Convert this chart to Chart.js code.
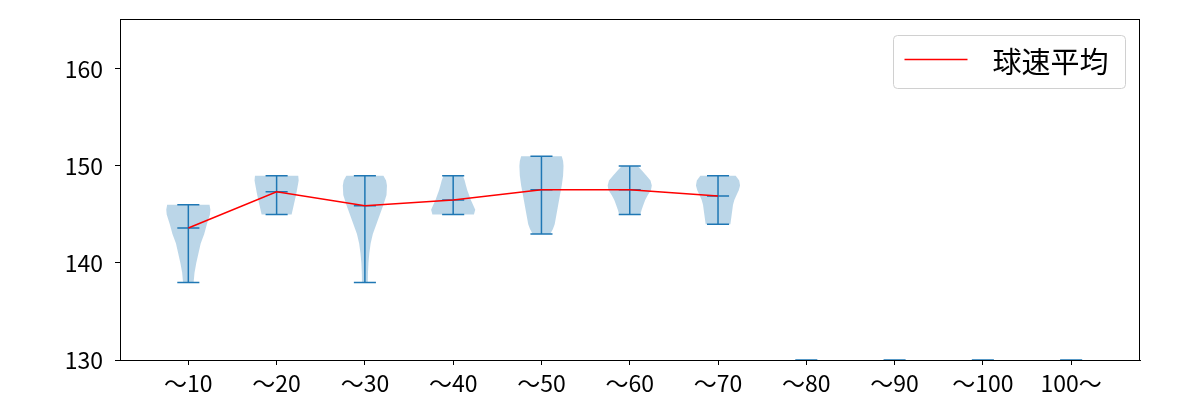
<!DOCTYPE html>
<html>
<head>
<meta charset="utf-8">
<script src="https://cdn.jsdelivr.net/npm/chart.js@4.4.1/dist/chart.umd.min.js"></script>
<style>
  html, body { margin: 0; padding: 0; background: #fff; }
  #wrap { width: 1200px; height: 400px; }
</style>
</head>
<body>
<div id="wrap"><canvas id="speedViolin"></canvas></div>
<script>
// 球数ごとの球速分布
const categories = ['〜10', '〜20', '〜30', '〜40', '〜50', '〜60', '〜70', '〜80', '〜90', '〜100', '100〜'];
const meanSpeed = [143.6, 147.35, 145.9, 146.5, 147.55, 147.55, 146.9, null, null, null, null];
const minSpeed = [138, 145, 138, 145, 143, 145, 144, 130, 130, 130, 130];
const maxSpeed = [146, 149, 149, 149, 151, 150, 149, 130, 130, 130, 130];
const yTicks = [130, 140, 150, 160];

// バイオリンの輪郭 (球速, 半幅)
const profileSpeeds = [
    [138, 139, 140, 141, 142, 143, 144, 145, 145.5, 146],
    [145, 146, 147, 148, 148.5, 149],
    [138, 139, 140, 141, 142, 143, 144, 145, 146, 147, 148, 148.5, 149],
    [145, 145.5, 146, 146.5, 147, 147.5, 148, 148.5, 149],
    [143, 143.5, 144, 145, 146, 147, 148, 149, 150, 150.5, 151],
    [145, 145.5, 146, 146.5, 147, 147.5, 148, 148.5, 149, 149.5, 150],
    [144, 145, 146, 146.5, 147, 147.5, 148, 148.5, 149],
    [], [], [], []
];
const profileWidths = [
    [0.06, 0.07, 0.09, 0.115, 0.14, 0.18, 0.21, 0.245, 0.25, 0.24],
    [0.17, 0.195, 0.22, 0.24, 0.25, 0.245],
    [0.033, 0.035, 0.04, 0.05, 0.065, 0.09, 0.13, 0.17, 0.21, 0.245, 0.25, 0.24, 0.21],
    [0.235, 0.25, 0.225, 0.2, 0.18, 0.16, 0.145, 0.13, 0.11],
    [0.10, 0.13, 0.15, 0.17, 0.19, 0.21, 0.23, 0.245, 0.25, 0.245, 0.23],
    [0.12, 0.135, 0.155, 0.175, 0.205, 0.24, 0.25, 0.235, 0.19, 0.14, 0.09],
    [0.14, 0.155, 0.17, 0.185, 0.21, 0.235, 0.25, 0.24, 0.2],
    [], [], [], []
];

const FONT = '"Noto Sans CJK JP", "Noto Sans", sans-serif';
const BLUE = '#1f77b4';
const CAP = 0.125;

// バイオリン本体とひげ (軸線の下に描く)
const violinPlugin = {
    id: 'violins',
    beforeDraw(chart) {
        const ctx = chart.ctx;
        const xs = chart.scales.x, ys = chart.scales.y;
        const a = chart.chartArea;
        ctx.save();
        ctx.beginPath();
        ctx.rect(a.left, a.top, a.right - a.left, a.bottom - a.top + 0.5);
        ctx.clip();
        categories.forEach((c, i) => {
            const sp = profileSpeeds[i], w = profileWidths[i];
            if (sp.length) {
                ctx.beginPath();
                for (let k = 0; k < sp.length; k++) {
                    const px = xs.getPixelForValue(i - w[k]), py = ys.getPixelForValue(sp[k]);
                    if (k === 0) ctx.moveTo(px, py); else ctx.lineTo(px, py);
                }
                for (let k = sp.length - 1; k >= 0; k--) {
                    ctx.lineTo(xs.getPixelForValue(i + w[k]), ys.getPixelForValue(sp[k]));
                }
                ctx.closePath();
                ctx.fillStyle = 'rgba(31,119,180,0.3)';
                ctx.fill();
            }
            ctx.strokeStyle = BLUE;
            ctx.lineWidth = 1.5;
            const cx = xs.getPixelForValue(i);
            const l = xs.getPixelForValue(i - CAP), r = xs.getPixelForValue(i + CAP);
            const yMin = ys.getPixelForValue(minSpeed[i]), yMax = ys.getPixelForValue(maxSpeed[i]);
            ctx.beginPath();
            ctx.moveTo(cx, yMin); ctx.lineTo(cx, yMax);
            ctx.moveTo(l, yMin); ctx.lineTo(r, yMin);
            ctx.moveTo(l, yMax); ctx.lineTo(r, yMax);
            if (meanSpeed[i] != null) {
                const yM = ys.getPixelForValue(meanSpeed[i]);
                ctx.moveTo(l, yM); ctx.lineTo(r, yM);
            }
            ctx.stroke();
        });
        ctx.restore();
    },
    afterDraw(chart) {
        const ctx = chart.ctx;
        const a = chart.chartArea;
        ctx.save();
        // 枠線
        ctx.strokeStyle = '#000';
        ctx.lineWidth = 1;
        ctx.strokeRect(a.left + 0.5, a.top + 0.5, a.right - a.left - 1, a.bottom - a.top);
        // 凡例
        const ds = chart.data.datasets[0];
        const bw = 232, bh = 53;
        const bx = a.right - 14.5 - bw, by = a.top + 16.5;
        ctx.beginPath();
        ctx.roundRect(bx, by, bw, bh, 4);
        ctx.fillStyle = 'rgba(255,255,255,0.8)';
        ctx.fill();
        ctx.strokeStyle = '#d0d0d0';
        ctx.stroke();
        ctx.strokeStyle = ds.borderColor;
        ctx.lineWidth = 1.5;
        ctx.beginPath();
        ctx.moveTo(bx + 11, by + 24);
        ctx.lineTo(bx + 74, by + 24);
        ctx.stroke();
        ctx.fillStyle = '#000';
        ctx.font = '29px ' + FONT;
        ctx.textBaseline = 'middle';
        ctx.fillText(ds.label, bx + 99, by + 26);
        ctx.restore();
    }
};

new Chart(document.getElementById('speedViolin'), {
    type: 'line',
    data: {
        datasets: [{
            label: '球速平均',
            data: meanSpeed.map((v, i) => ({ x: i, y: v })).filter(p => p.y != null),
            borderColor: '#ff0000',
            borderWidth: 1.5,
            pointRadius: 0,
            tension: 0,
            fill: false
        }]
    },
    options: {
        responsive: true,
        maintainAspectRatio: false,
        animation: false,
        layout: { padding: { left: 0, right: 60, top: 19, bottom: 0 } },
        plugins: { legend: { display: false }, tooltip: { enabled: false } },
        scales: {
            x: {
                type: 'linear',
                min: -0.774,
                max: 10.78,
                afterBuildTicks: s => { s.ticks = categories.map((c, i) => ({ value: i })); },
                afterFit: s => { s.height = 40; s.paddingLeft = 0; s.paddingRight = 0; },
                ticks: {
                    callback: v => categories[v],
                    autoSkip: false, maxRotation: 0,
                    color: '#000', padding: 4,
                    font: { family: FONT, size: 23 }
                },
                grid: { drawOnChartArea: false, color: '#000', tickLength: 5 },
                border: { color: '#000', width: 1 }
            },
            y: {
                min: 130,
                max: 165.15,
                afterBuildTicks: s => { s.ticks = yTicks.map(v => ({ value: v })); },
                afterFit: s => { s.width = 120; s.paddingTop = 0; s.paddingBottom = 0; },
                ticks: {
                    color: '#000', padding: 12,
                    font: { family: FONT, size: 23 }
                },
                grid: { drawOnChartArea: false, color: '#000', tickLength: 5 },
                border: { color: '#000', width: 1 }
            }
        }
    },
    plugins: [violinPlugin]
});
</script>
</body>
</html>
